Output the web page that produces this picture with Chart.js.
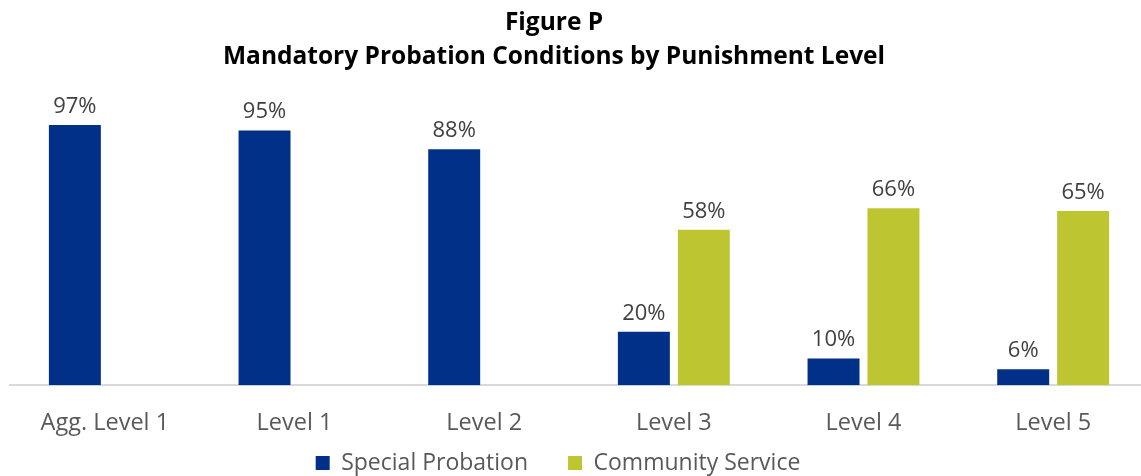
<!DOCTYPE html>
<html>
<head>
<meta charset="utf-8">
<script src="https://cdn.jsdelivr.net/npm/chart.js@4"></script>
<style>
  html, body { margin: 0; padding: 0; background: #fff; overflow: hidden; }
  #wrap { width: 1148px; height: 476px; position: relative; }
</style>
</head>
<body>
<div id="wrap"><canvas id="chart"></canvas></div>
<script>
const categories = ["Agg. Level 1", "Level 1", "Level 2", "Level 3", "Level 4", "Level 5"];
const specialProbation = [97, 95, 88, 20, 10, 6];
const communityService = [null, null, null, 58, 66, 65];
const titleLines = ["Figure P", "Mandatory Probation Conditions by Punishment Level"];

const FONT = "'Open Sans', sans-serif";
const LEGEND_GAP = 40;

// draw the % labels above each bar
const barLabels = {
    id: "barLabels",
    afterDatasetsDraw(chart) {
        const ctx = chart.ctx;
        ctx.save();
        ctx.font = "22px " + FONT;
        ctx.fillStyle = "#404040";
        ctx.textAlign = "center";
        ctx.textBaseline = "alphabetic";
        chart.data.datasets.forEach((ds, i) => {
            chart.getDatasetMeta(i).data.forEach((bar, j) => {
                if (ds.data[j] == null) return;
                ctx.fillText(ds.data[j] + "%", bar.x, bar.y - 12);
            });
        });
        ctx.restore();
    }
};

// keep the legend short even with a wide gap between its items,
// and centre title + legend a little left of the canvas centre
const tweakBoxes = {
    id: "tweakBoxes",
    beforeLayout(chart) {
        const lg = chart.legend;
        if (lg && !lg._short) {
            const fit = lg.fit.bind(lg);
            lg.fit = function() {
                fit();
                this.height = 18;
            };
            lg._short = true;
        }
    },
    afterLayout(chart) {
        if (chart.titleBlock) chart.titleBlock.right -= 50;
        if (chart.legend) {
            chart.legend.right -= 42;
            chart.legend.top -= 50;
        }
    }
};

new Chart(document.getElementById("chart"), {
    type: "bar",
    data: {
        labels: categories,
        datasets: [{
            label: "Special Probation",
            data: specialProbation,
            backgroundColor: "#003087",
            categoryPercentage: 0.632,
            barPercentage: 0.867
        }, {
            label: "Community Service",
            data: communityService,
            backgroundColor: "#BDC630",
            categoryPercentage: 0.632,
            barPercentage: 0.867
        }]
    },
    options: {
        responsive: true,
        maintainAspectRatio: false,
        animation: false,
        layout: {
            padding: { left: 10, right: 0, top: 0, bottom: -3.5 }
        },
        scales: {
            x: {
                grid: { display: false, drawTicks: false },
                border: { color: "#D9D9D9", width: 2 },
                ticks: {
                    color: "#595959",
                    font: { family: FONT, size: 23.5 },
                    padding: 24
                }
            },
            y: {
                display: false,
                min: 0,
                max: 100
            }
        },
        plugins: {
            title: {
                display: true,
                text: titleLines,
                color: "#000",
                font: { family: FONT, size: 24.5, weight: "bold", lineHeight: 34 / 24.5 },
                padding: { top: 6, bottom: 43 }
            },
            legend: {
                position: "bottom",
                labels: {
                    color: "#595959",
                    font: { family: FONT, size: 23 },
                    boxWidth: 14,
                    boxHeight: 14,
                    padding: LEGEND_GAP
                }
            },
            tooltip: { enabled: false }
        }
    },
    plugins: [barLabels, tweakBoxes]
});
</script>
</body>
</html>
